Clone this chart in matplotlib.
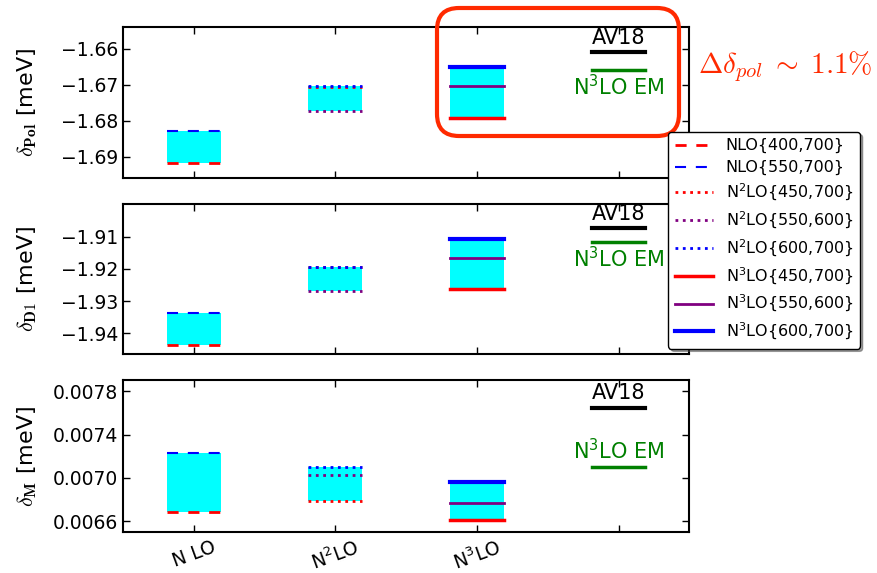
import numpy as np
import matplotlib.pyplot as plt
from matplotlib.patches import FancyBboxPatch
from matplotlib.transforms import IdentityTransform

# orders on the x axis, the 4th slot holds the reference values
orders = ['N LO', 'N$^2$LO', 'N$^3$LO', '']
x_pos = [1, 2, 3]
ref_x = 4

nlo_labels = ['NLO{400,700}', 'NLO{550,700}']
n2lo_labels = ['N$^2$LO{450,700}', 'N$^2$LO{550,600}', 'N$^2$LO{600,700}']
n3lo_labels = ['N$^3$LO{450,700}', 'N$^3$LO{550,600}', 'N$^3$LO{600,700}']

# delta_Pol [meV]
pol_nlo = [-1.6917, -1.6828]
pol_n2lo = [-1.6707, -1.6773, -1.6705]
pol_n3lo = [-1.6794, -1.6705, -1.6651]
pol_av18 = -1.6609
pol_em = -1.6659

# delta_D1 [meV]
d1_nlo = [-1.9437, -1.9337]
d1_n2lo = [-1.9195, -1.9267, -1.9193]
d1_n3lo = [-1.9261, -1.9166, -1.9107]
d1_av18 = -1.9074
d1_em = -1.9117

# delta_M [meV]
m_nlo = [0.00668, 0.007234]
m_n2lo = [0.006785, 0.007027, 0.007096]
m_n3lo = [0.00661, 0.006763, 0.00696]
m_av18 = 0.00765
m_em = 0.007096

half = 0.19

nlo_sty = [dict(color='red', ls=(0, (4, 3.5)), lw=2),
           dict(color='blue', ls=(0, (5.3, 4.7)), lw=1.5)]
n2lo_sty = [dict(color='red', ls=':', lw=2),
            dict(color='purple', ls=':', lw=2),
            dict(color='blue', ls=':', lw=2)]
n3lo_sty = [dict(color='red', ls='-', lw=2.5),
            dict(color='purple', ls='-', lw=2),
            dict(color='blue', ls='-', lw=3)]

panels = [
    dict(vals=[pol_nlo, pol_n2lo, pol_n3lo], av18=pol_av18, em=pol_em,
         label=r'$\delta_{\mathbf{Pol}}$ [meV]', ylim=(-1.696, -1.654),
         ticks=[-1.69, -1.68, -1.67, -1.66], em_above=False,
         rect=[0.140, 0.689, 0.646, 0.264]),
    dict(vals=[d1_nlo, d1_n2lo, d1_n3lo], av18=d1_av18, em=d1_em,
         label=r'$\delta_{\mathbf{D1}}$ [meV]', ylim=(-1.9464, -1.8999),
         ticks=[-1.94, -1.93, -1.92, -1.91], em_above=False,
         rect=[0.140, 0.382, 0.646, 0.262]),
    dict(vals=[m_nlo, m_n2lo, m_n3lo], av18=m_av18, em=m_em,
         label=r'$\delta_{\mathbf{M}}$ [meV]', ylim=(0.006496, 0.0079),
         ticks=[0.0066, 0.0070, 0.0074, 0.0078], em_above=True,
         rect=[0.140, 0.071, 0.646, 0.265]),
]

fig = plt.figure(figsize=(8.77, 5.73), dpi=100)

handles = []
for i, p in enumerate(panels):
    ax = fig.add_axes(p['rect'])
    styles = [nlo_sty, n2lo_sty, n3lo_sty]
    labels = [nlo_labels, n2lo_labels, n3lo_labels]
    for x, v, sty, lab in zip(x_pos, p['vals'], styles, labels):
        # cyan band spanning the cutoff variation
        ax.bar(x, max(v) - min(v), bottom=min(v), width=2 * half,
               color='cyan', zorder=1)
        for y, s, l in zip(v, sty, lab):
            h, = ax.plot([x - half, x + half], [y, y], label=l, zorder=2, **s)
            if i == 0:
                handles.append(h)

    # reference values
    ax.plot([ref_x - half, ref_x + half], [p['av18']] * 2, color='black', lw=3)
    ax.plot([ref_x - half, ref_x + half], [p['em']] * 2, color='green', lw=2.5)
    ax.annotate('AV18', (ref_x, p['av18']), xytext=(0, 3),
                textcoords='offset points', ha='center', va='bottom',
                fontsize=15)
    if p['em_above']:
        ax.annotate('N$^3$LO EM', (ref_x, p['em']), xytext=(0.5, 3),
                    textcoords='offset points', ha='center', va='bottom',
                    fontsize=15, color='green')
    else:
        ax.annotate('N$^3$LO EM', (ref_x, p['em']), xytext=(0.5, -3),
                    textcoords='offset points', ha='center', va='top',
                    fontsize=15, color='green')

    ax.set_xlim(0.5, 4.5)
    ax.set_ylim(*p['ylim'])
    ax.set_yticks(p['ticks'])
    ax.set_xticks([1, 2, 3, 4])
    if i == 2:
        ax.set_xticklabels(orders, rotation=20, fontsize=14)
    else:
        ax.set_xticklabels([])
    ax.tick_params(direction='in', top=True, right=True, labelsize=13.5,
                   length=5, width=1)
    for sp in ax.spines.values():
        sp.set_linewidth(1.5)
    ax.set_ylabel(p['label'], fontsize=16, math_fontfamily='cm')
    ax.yaxis.set_label_coords(-0.148, 0.5)

fig.legend(handles=handles, loc='upper left', bbox_to_anchor=(0.762, 0.770),
           borderaxespad=0, fontsize=11.5, handlelength=2.4, labelspacing=0.42,
           fancybox=True, shadow=True, framealpha=1, edgecolor='black')

# red highlight box round the N3LO result of the top panel (pixel coords)
box = FancyBboxPatch((437, 437), 242, 128,
                     boxstyle='round,pad=0,rounding_size=22',
                     transform=IdentityTransform(), fill=False,
                     edgecolor='#FF2A00', lw=3)
fig.add_artist(box)
fig.text(0.796, 0.883, r'$\Delta\delta_{pol}\;\sim\;1.1\%$', color='#FF2A00',
         fontsize=21, va='center', ha='left', math_fontfamily='cm')

plt.savefig('out.png', dpi=100)
